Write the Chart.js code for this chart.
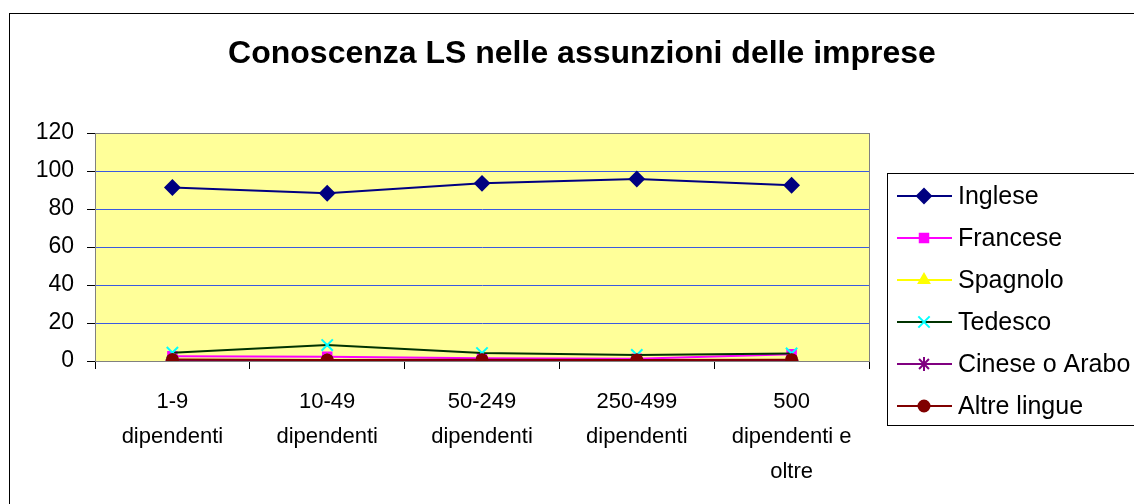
<!DOCTYPE html>
<html><head><meta charset="utf-8">
<style>html,body{margin:0;padding:0;background:#fff;}#wrap{width:1134px;height:504px;position:relative;}</style>
<script src="https://cdn.jsdelivr.net/npm/chart.js@4/dist/chart.umd.min.js"></script>
</head><body><div id="wrap"><canvas id="c" width="1134" height="504"></canvas></div>
<script>
const title = 'Conoscenza LS nelle assunzioni delle imprese';
const categories = [['1-9','dipendenti'],['10-49','dipendenti'],['50-249','dipendenti'],['250-499','dipendenti'],['500','dipendenti e','oltre']];
const inglese = [91.3, 88.3, 93.5, 95.8, 92.5];
const francese = [2.5, 2.3, 1.5, 1.2, 3.5];
const spagnolo = [0.6, 0.3, 0.4, 0.3, 0.5];
const tedesco = [4.4, 8.4, 4.2, 3.2, 4.0];
const cinese = [0.3, 0.2, 0.2, 0.2, 0.3];
const altre = [0.8, 0.5, 0.6, 0.5, 0.7];
const yTicks = [0, 20, 40, 60, 80, 100, 120];

const FONT = 'Arial, "Liberation Sans", sans-serif';

const ds = (label, data, line, mfill, mstroke, style, r, order) => ({
  label, data, borderColor: line, backgroundColor: mfill, pointBackgroundColor: mfill,
  pointBorderColor: mstroke, pointStyle: style, pointRadius: r, pointBorderWidth: 2,
  borderWidth: 2, tension: 0, fill: false, order
});

const datasets = [
  ds('Inglese', inglese, '#000080', '#000080', '#000080', 'rectRot', 7, 6),
  ds('Francese', francese, '#FF00FF', '#FF00FF', '#FF00FF', 'rect', 6, 5),
  ds('Spagnolo', spagnolo, '#FFFF00', '#FFFF00', '#FFFF00', 'triangle', 6, 4),
  ds('Tedesco', tedesco, '#003300', '#00FFFF', '#00FFFF', 'crossRot', 8, 3),
  ds('Cinese o Arabo', cinese, '#800080', '#800080', '#800080', 'star', 7, 2),
  ds('Altre lingue', altre, '#800000', '#800000', '#800000', 'circle', 5.5, 1)
];

const deco = {
  id: 'deco',
  beforeDraw(chart) {
    const ctx = chart.ctx, a = chart.chartArea;
    ctx.save();
    ctx.fillStyle = '#fff'; ctx.fillRect(0, 0, chart.width, chart.height);
    ctx.fillStyle = '#FFFF99'; ctx.fillRect(a.left, a.top, a.right - a.left, a.bottom - a.top);
    ctx.restore();
  },
  afterDraw(chart) {
    const ctx = chart.ctx, a = chart.chartArea;
    ctx.save();
    ctx.strokeStyle = '#808080'; ctx.lineWidth = 1;
    ctx.strokeRect(Math.round(a.left) + 0.5, Math.round(a.top) + 0.5, Math.round(a.right - a.left), Math.round(a.bottom - a.top));
    ctx.strokeStyle = '#000'; ctx.lineWidth = 1;
    ctx.strokeRect(9.5, 13.5, 1200, 600);
    ctx.fillStyle = '#000'; ctx.font = 'bold 32px ' + FONT;
    ctx.textAlign = 'center'; ctx.textBaseline = 'middle';
    ctx.fillText(title, 582, 54);
    const lx = 887, ly = 173, lw = 300, lh = 252;
    ctx.fillStyle = '#fff'; ctx.fillRect(lx, ly, lw, lh);
    ctx.strokeStyle = '#000'; ctx.strokeRect(lx + 0.5, ly + 0.5, lw, lh);
    ctx.font = '25px ' + FONT; ctx.textAlign = 'left';
    chart.data.datasets.forEach((d, i) => {
      const y = 196 + i * 42;
      ctx.strokeStyle = d.borderColor; ctx.lineWidth = 2;
      ctx.beginPath(); ctx.moveTo(897, y); ctx.lineTo(952, y); ctx.stroke();
      ctx.fillStyle = d.pointBackgroundColor; ctx.strokeStyle = d.pointBorderColor;
      ctx.beginPath();
      Chart.helpers.drawPoint(ctx, { pointStyle: d.pointStyle, radius: d.pointRadius, borderWidth: 2 }, 924, y);
      ctx.fillStyle = '#000';
      ctx.fillText(d.label, 958, y + 1);
    });
    ctx.restore();
  }
};

new Chart(document.getElementById('c'), {
  type: 'line',
  data: { labels: categories, datasets },
  options: {
    responsive: false, animation: false, devicePixelRatio: 1,
    layout: { padding: { left: 0, top: 133, right: 265, bottom: 0 } },
    plugins: { legend: { display: false }, title: { display: false }, tooltip: { enabled: false } },
    scales: {
      x: {
        offset: true,
        grid: { offset: true, drawOnChartArea: false, drawTicks: true, tickLength: 8, tickColor: '#000', tickWidth: 1 },
        border: { color: '#000', width: 1 },
        ticks: { color: '#000', font: { size: 22, family: FONT, lineHeight: 1.6 }, padding: 15, maxRotation: 0, autoSkip: false },
        afterFit(s) { s.height = 143; }
      },
      y: {
        min: 0, max: 120,
        afterBuildTicks(s) { s.ticks = yTicks.map(v => ({ value: v })); },
        grid: { color: '#3A5AE0', lineWidth: 1, tickLength: 8, tickColor: '#000', drawTicks: true },
        border: { color: '#000', width: 1 },
        ticks: { color: '#000', font: { size: 23, family: FONT }, padding: 13 },
        afterFit(s) { s.width = 95; }
      }
    }
  },
  plugins: [deco]
});
</script></body></html>
